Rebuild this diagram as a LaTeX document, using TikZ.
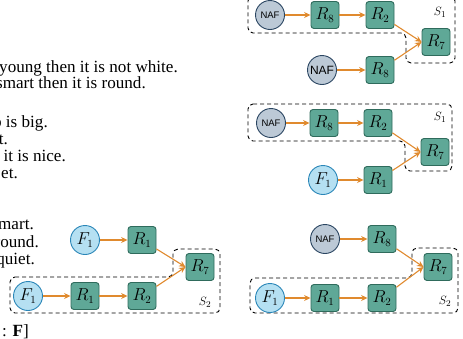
\documentclass[tikz,border=0pt]{standalone}
\usepackage{fontspec}
\setmainfont{Liberation Serif}
\newfontfamily\naffont{Liberation Sans}
\usepackage{tikz}
\usetikzlibrary{arrows.meta}
\definecolor{rulefill}{HTML}{5FA897}
\definecolor{ruleline}{HTML}{2F6B5C}
\definecolor{factfill}{HTML}{B5E0F2}
\definecolor{factline}{HTML}{2A86B8}
\definecolor{naffill}{HTML}{BCC9D6}
\definecolor{nafline}{HTML}{2B4662}
\definecolor{edgeorange}{HTML}{E08A2E}
\tikzset{%
  rulenode/.style = {shape=rectangle, rounded corners=3pt, draw=ruleline,%
                     fill=rulefill, line width=0.9pt,%
                     minimum width=28pt, minimum height=27pt, inner sep=0pt,%
                     font=\fontsize{16}{18}\selectfont},%
  factnode/.style = {circle, draw=factline, fill=factfill, line width=0.9pt,%
                     minimum size=29pt, inner sep=0pt,%
                     font=\fontsize{16}{18}\selectfont},%
  nafnode/.style  = {circle, draw=nafline, fill=naffill, line width=0.9pt,%
                     minimum size=29pt, inner sep=0pt,%
                     font=\naffont\fontsize{9.5}{10}\selectfont},%
  dep/.style      = {draw=edgeorange, line width=1.1pt,%
                     -{Stealth[length=6.5pt,width=6pt]}},%
  subgoal/.style  = {draw=black, line width=0.9pt, dashed,%
                     dash pattern=on 4pt off 3pt, rounded corners=5pt},%
  setlabel/.style = {font=\fontsize{13}{15}\selectfont},%
  frag/.style     = {anchor=base east, inner sep=0pt,%
                     font=\fontsize{17.1}{18}\selectfont}%
}
\begin{document}
\begin{tikzpicture}[x=1pt, y=-1pt]
  \useasboundingbox (0,0) rectangle (463,338);
  % cut-off text column
  \node[frag] (t1) at (178,72) {young then it is not white.};
  \node[frag] (t2) at (146,88) {smart then it is round.};
  \node[frag] (t3) at (48,127) {b is big.};
  \node[frag] (t4) at (8,144) {t.};
  \node[frag] (t5) at (66,161) {n it is nice.};
  \node[frag] (t6) at (18,178) {et.};
  \node[frag] (t7) at (34,229) {mart.};
  \node[frag] (t8) at (39,247) {round.};
  \node[frag] (t9) at (35,264) {quiet.};
  \node[frag] (t10) at (29,336) {: \textbf{F}]};

  % top right: S1
  \draw[subgoal] (248,-4) -- (455,-4) -- (455,63) -- (406,63)
                 -- (406,33) -- (248,33) -- cycle;
  \node[nafnode] (a-naf) at (270,15) {NAF};
  \node[rulenode] (a-r8) at (325,15) {$R_8$};
  \node[rulenode] (a-r2) at (380,15) {$R_2$};
  \node[rulenode] (a-r7) at (436,42) {$R_7$};
  \node[nafnode, font=\naffont\fontsize{12}{13}\selectfont] (a-naf2) at (322,70) {NAF};
  \node[rulenode] (a-r8b) at (380,70) {$R_8$};
  \node[setlabel] (a-s) at (440,12) {$S_1$};
  \draw[dep] (a-naf) -- (a-r8);
  \draw[dep] (a-r8) -- (a-r2);
  \draw[dep] (a-r2) -- (a-r7.west);
  \draw[dep] (a-naf2) -- (a-r8b);
  \draw[dep] (a-r8b) -- (a-r7.west);

  % middle right: S1
  \draw[subgoal] (248,104) -- (452,104) -- (452,171) -- (405,171)
                 -- (405,141) -- (248,141) -- cycle;
  \node[nafnode] (b-naf) at (271,123) {NAF};
  \node[rulenode] (b-r8) at (324,123) {$R_8$};
  \node[rulenode] (b-r2) at (378,123) {$R_2$};
  \node[rulenode] (b-r7) at (435,152) {$R_7$};
  \node[factnode] (b-f1) at (323,180) {$F_1$};
  \node[rulenode] (b-r1) at (378,180) {$R_1$};
  \node[setlabel] (b-s) at (440,117) {$S_1$};
  \draw[dep] (b-naf) -- (b-r8);
  \draw[dep] (b-r8) -- (b-r2);
  \draw[dep] (b-r2) -- (b-r7.west);
  \draw[dep] (b-f1) -- (b-r1);
  \draw[dep] (b-r1) -- (b-r7.west);

  % bottom right: S2
  \draw[subgoal] (250,278) -- (412,278) -- (412,248) -- (458,248)
                 -- (458,313) -- (250,313) -- cycle;
  \node[nafnode] (c-naf) at (325,239) {NAF};
  \node[rulenode] (c-r8) at (382,239) {$R_8$};
  \node[rulenode] (c-r7) at (438,267) {$R_7$};
  \node[factnode] (c-f1) at (270,298) {$F_1$};
  \node[rulenode] (c-r1) at (325,298) {$R_1$};
  \node[rulenode] (c-r2) at (382,298) {$R_2$};
  \node[setlabel] (c-s) at (445,301) {$S_2$};
  \draw[dep] (c-naf) -- (c-r8);
  \draw[dep] (c-r8) -- (c-r7.west);
  \draw[dep] (c-f1) -- (c-r1);
  \draw[dep] (c-r1) -- (c-r2);
  \draw[dep] (c-r2) -- (c-r7.west);

  % bottom left: S2
  \draw[subgoal] (10,277) -- (173,277) -- (173,249) -- (220,249)
                 -- (220,313) -- (10,313) -- cycle;
  \node[factnode] (d-f1) at (85,240) {$F_1$};
  \node[rulenode] (d-r1) at (142,240) {$R_1$};
  \node[rulenode] (d-r7) at (200,267) {$R_7$};
  \node[factnode] (d-f1b) at (28,296) {$F_1$};
  \node[rulenode] (d-r1b) at (85,296) {$R_1$};
  \node[rulenode] (d-r2) at (142,296) {$R_2$};
  \node[setlabel] (d-s) at (205,302) {$S_2$};
  \draw[dep] (d-f1) -- (d-r1);
  \draw[dep] (d-r1) -- (d-r7.west);
  \draw[dep] (d-f1b) -- (d-r1b);
  \draw[dep] (d-r1b) -- (d-r2);
  \draw[dep] (d-r2) -- (d-r7.west);
\end{tikzpicture}
\end{document}
